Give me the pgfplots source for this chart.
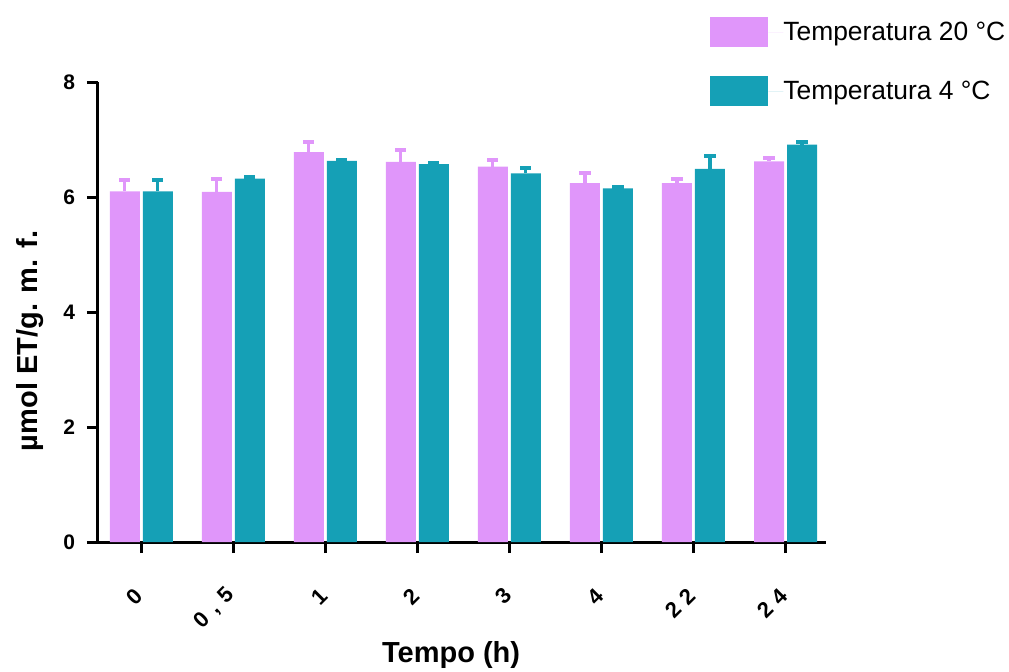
\documentclass[border=0pt]{standalone}
\usepackage{pgfplots}
\pgfplotsset{compat=1.18}
\usepackage{fontspec}
\setmainfont{Liberation Sans}
\definecolor{pinkbar}{RGB}{224,150,250}
\definecolor{tealbar}{RGB}{21,160,182}
\begin{document}
\begin{tikzpicture}
\path[use as bounding box] (0,0) rectangle (504.5pt,335.5pt);
\begin{axis}[
  at={(49pt,64.5pt)}, anchor=south west,
  scale only axis, width=364pt, height=230pt,
  ybar=1.5pt, bar width=15pt,
  xmin=-0.47, xmax=7.44, ymin=0, ymax=8,
  axis x line=bottom, axis y line=left,
  axis line style={line width=1.5pt, -},
  tick align=outside, major tick length=5.5pt,
  tick style={line width=1.5pt, black},
  xtick={0,1,2,3,4,5,6,7},
  xticklabels={0,{0\hspace{4pt},\hspace{4pt}5},1,2,3,4,{2\hspace{3.5pt}2},{2\hspace{3.5pt}4}},
  ytick={0,2,4,6,8},
  /pgf/number format/assume math mode=true,
  ticklabel style={font=\bfseries\fontsize{10.5}{12}\selectfont},
  yticklabel style={xshift=-2.5pt},
  xticklabel style={font=\bfseries\fontsize{11}{12}\selectfont, xshift=1.5pt, yshift=-17pt, rotate=45, anchor=east},
  xlabel={Tempo (h)},
  xlabel style={font=\bfseries\fontsize{14.5}{17}\selectfont, at={(axis description cs:0.485,-0.245)}, anchor=center},
  ylabel={µmol ET/g. m. f.},
  ylabel style={font=\bfseries\fontsize{14.5}{17}\selectfont, at={(axis description cs:-0.0934,0.437)}, anchor=center},
  legend style={draw=none, fill=none, at={(0.8407,1.1413)}, anchor=north west,
    font=\fontsize{13.2}{15}\selectfont, row sep=14.5pt, inner sep=0pt,
    nodes={inner sep=0pt}},
  legend cell align=left,
  clip=false,
]
\addplot[fill=pinkbar, draw=none,
  error bars/.cd, y dir=plus, y explicit, error mark=-,
  error bar style={line width=1.6pt, pinkbar},
  error mark options={rotate=90, line width=2pt, mark size=2.8pt, pinkbar},
  /pgfplots/.cd, legend image code/.code={\fill[pinkbar] (0pt,-7.5pt) rectangle (29pt,7.5pt); \path (29pt,0pt) -- (36.5pt,0pt);}]
  coordinates {(0,6.10) +- (0,0.20) (1,6.09) +- (0,0.22) (2,6.78) +- (0,0.17) (3,6.61) +- (0,0.21)
               (4,6.53) +- (0,0.11) (5,6.24) +- (0,0.18) (6,6.24) +- (0,0.07) (7,6.62) +- (0,0.05)};
\addlegendentry{Temperatura 20 °C}
\addplot[fill=tealbar, draw=none,
  error bars/.cd, y dir=plus, y explicit, error mark=-,
  error bar style={line width=1.6pt, tealbar},
  error mark options={rotate=90, line width=2pt, mark size=2.8pt, tealbar},
  /pgfplots/.cd, legend image code/.code={\fill[tealbar] (0pt,-7.5pt) rectangle (29pt,7.5pt); \path (29pt,0pt) -- (36.5pt,0pt);}]
  coordinates {(0,6.10) +- (0,0.20) (1,6.32) +- (0,0.02) (2,6.63) +- (0,0.02) (3,6.57) +- (0,0.02)
               (4,6.41) +- (0,0.09) (5,6.15) +- (0,0.03) (6,6.49) +- (0,0.23) (7,6.91) +- (0,0.05)};
\addlegendentry{Temperatura 4 °C}
\end{axis}
\end{tikzpicture}
\end{document}
